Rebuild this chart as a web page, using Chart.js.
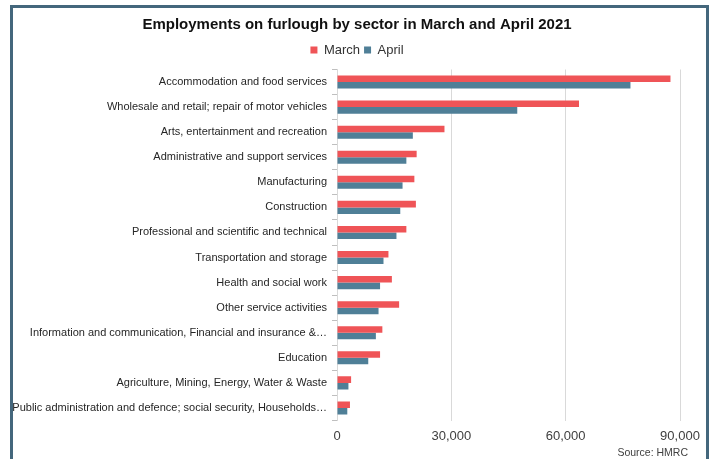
<!DOCTYPE html>
<html>
<head>
<meta charset="utf-8">
<script src="https://cdn.jsdelivr.net/npm/chart.js@4.4.1/dist/chart.umd.min.js"></script>
<style>
  html, body { margin: 0; padding: 0; background: #fff; }
  #wrap { position: relative; width: 714px; height: 459px; overflow: hidden; }
  #frame {
    position: absolute; left: 10px; top: 5px; width: 693px; height: 480px;
    border: 3px solid #44677c; pointer-events: none;
  }
  #source {
    position: absolute; right: 26px; top: 446px;
    font: 10.5px "Liberation Sans", Arial, sans-serif; color: #404040;
  }
</style>
</head>
<body>
<div id="wrap">
  <canvas id="chart" width="714" height="459"></canvas>
  <div id="frame"></div>
  <div id="source">Source: HMRC</div>
</div>
<script>
// sectors, top to bottom
const sectors = [
  'Accommodation and food services',
  'Wholesale and retail; repair of motor vehicles',
  'Arts, entertainment and recreation',
  'Administrative and support services',
  'Manufacturing',
  'Construction',
  'Professional and scientific and technical',
  'Transportation and storage',
  'Health and social work',
  'Other service activities',
  'Information and communication, Financial and insurance &\u2026',
  'Education',
  'Agriculture, Mining, Energy, Water & Waste',
  'Public administration and defence; social security, Households\u2026'
];
const marchValues = [87500, 63500, 28200, 20900, 20300, 20700, 18200, 13500, 14400, 16300, 11900, 11300, 3700, 3400];
const aprilValues = [77000, 47300, 19900, 18200, 17200, 16600, 15600, 12200, 11300, 10900, 10200, 8200, 3000, 2700];
const xTicks = [0, 30000, 60000, 90000];

const FONT = '"Liberation Sans", Arial, sans-serif';

// room under the legend before the bars start
const legendGap = {
  id: 'legendGap',
  beforeInit(chart) {
    const fit = chart.legend.fit;
    chart.legend.fit = function () {
      fit.call(this);
      this.height += 3;
    };
  }
};

new Chart(document.getElementById('chart'), {
  type: 'bar',
  data: {
    labels: sectors,
    datasets: [
      { label: 'March', data: marchValues, backgroundColor: '#ef5457' },
      { label: 'April', data: aprilValues, backgroundColor: '#4f7f97' }
    ]
  },
  options: {
    indexAxis: 'y',
    responsive: false,
    animation: false,
    layout: { padding: 0 },
    datasets: { bar: { categoryPercentage: 0.52, barPercentage: 1 } },
    plugins: {
      title: {
        display: true,
        text: 'Employments on furlough by sector in March and April 2021',
        color: '#111',
        font: { family: FONT, size: 15, weight: 'bold' },
        padding: { top: 16, bottom: 5.5 }
      },
      legend: {
        position: 'top',
        labels: {
          color: '#333',
          font: { family: FONT, size: 13 },
          boxWidth: 7, boxHeight: 7,
          padding: 4
        }
      },
      tooltip: { enabled: false }
    },
    scales: {
      x: {
        min: 0, max: 90000,
        afterBuildTicks(axis) { axis.ticks = xTicks.map(v => ({ value: v })); },
        afterFit(axis) { axis.height = 38.5; },
        grid: { color: '#d9d9d9', drawTicks: false },
        border: { display: false },
        ticks: {
          color: '#404040',
          font: { family: FONT, size: 13 },
          padding: 8,
          callback: v => v.toLocaleString('en-US')
        }
      },
      y: {
        afterFit(axis) { axis.width = 337; },
        grid: { drawOnChartArea: false, color: '#bfbfbf', tickLength: 5, offset: true },
        border: { display: true, color: '#d9d9d9' },
        ticks: {
          color: '#262626',
          font: { family: FONT, size: 11 },
          padding: 5,
          autoSkip: false
        }
      },
      // empty right-hand axis: keeps the plot clear of the frame
      yRight: {
        type: 'category',
        position: 'right',
        afterFit(axis) { axis.width = 34; },
        grid: { display: false },
        border: { display: false },
        ticks: { display: false }
      }
    }
  },
  plugins: [legendGap]
});
</script>
</body>
</html>
